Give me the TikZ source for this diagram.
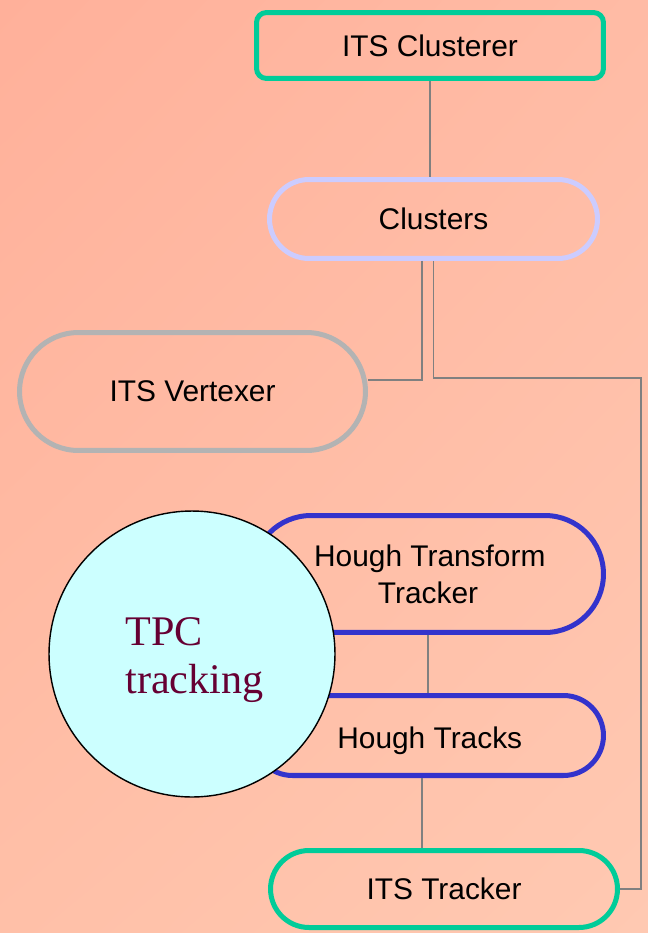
\documentclass[tikz,border=0pt]{standalone}
\usepackage{fontspec}
\setmainfont{Liberation Sans}
\newfontfamily\tpcfont{Liberation Serif}
\usetikzlibrary{positioning,shadings}
\definecolor{bgtl}{HTML}{FFB09A}
\definecolor{bgtr}{HTML}{FFBBA5}
\definecolor{bgbl}{HTML}{FFC0A8}
\definecolor{bgbr}{HTML}{FFC9B2}
\definecolor{itsgreen}{HTML}{00CC99}
\definecolor{lavender}{HTML}{CCCCFF}
\definecolor{vtxgray}{HTML}{B3B3B3}
\definecolor{houghblue}{HTML}{3333CC}
\definecolor{tpcfill}{HTML}{CCFFFF}
\definecolor{tpctext}{HTML}{660033}
\begin{document}
\begin{tikzpicture}[x=0.02cm,y=-0.02cm,
				every node/.style={draw,line width=2.85pt,inner sep=0pt,align=center,font=\fontsize{17}{21}\selectfont},
				wire/.style={draw=gray,line width=0.85pt}]
\shade[upper left=bgtl,upper right=bgtr,lower left=bgbl,lower right=bgbr] (0,0) rectangle (648,933);
\node[draw=itsgreen,minimum width=6.94cm,minimum height=1.32cm,rounded corners=0.2cm] (clusterer) at (430,45.5) {ITS Clusterer};
\node[draw=lavender,minimum width=6.56cm,minimum height=1.58cm,rounded corners=0.79cm] (clusters) at (433.5,219) {Clusters};
\node[draw=vtxgray,minimum width=6.92cm,minimum height=2.36cm,rounded corners=1.18cm] (vertexer) at (192.5,391.5) {ITS Vertexer};
\node[draw=houghblue,minimum width=7.02cm,minimum height=2.34cm,rounded corners=1.17cm] (htt) at (428,574) {\hspace*{2pt}Hough Transform\\Tracker};
\node[draw=houghblue,minimum width=7.02cm,minimum height=1.6cm,rounded corners=0.8cm,text height=18pt,text depth=3.6pt] (tracks) at (428,735.5) {\hspace*{2pt}Hough Tracks};
\node[draw=itsgreen,minimum width=6.94cm,minimum height=1.54cm,rounded corners=0.77cm] (tracker) at (444,889) {ITS Tracker};
\node[circle,draw=black,line width=0.8pt,fill=tpcfill,minimum size=5.72cm] (tpc) at (192,654) {};
\node[draw=none,anchor=west,align=left,text=tpctext,font=\tpcfont\fontsize{24}{27}\selectfont] (tpclabel) at (123,660) {TPC\\tracking};
\coordinate (bend) at (641,378);
\draw[wire] (clusterer) -- (clusterer |- clusters.north);
\draw[wire] ([xshift=-0.23cm]clusters.south) |- ([yshift=0.23cm]vertexer.east);
\draw[wire] (clusters.south) |- (bend) |- (tracker.east);
\draw[wire] (htt.south) -- (tracks.north);
\draw[wire] ([xshift=-0.12cm]tracks.south) -- ([xshift=-0.12cm]tracks.south |- tracker.north);
\end{tikzpicture}
\end{document}
